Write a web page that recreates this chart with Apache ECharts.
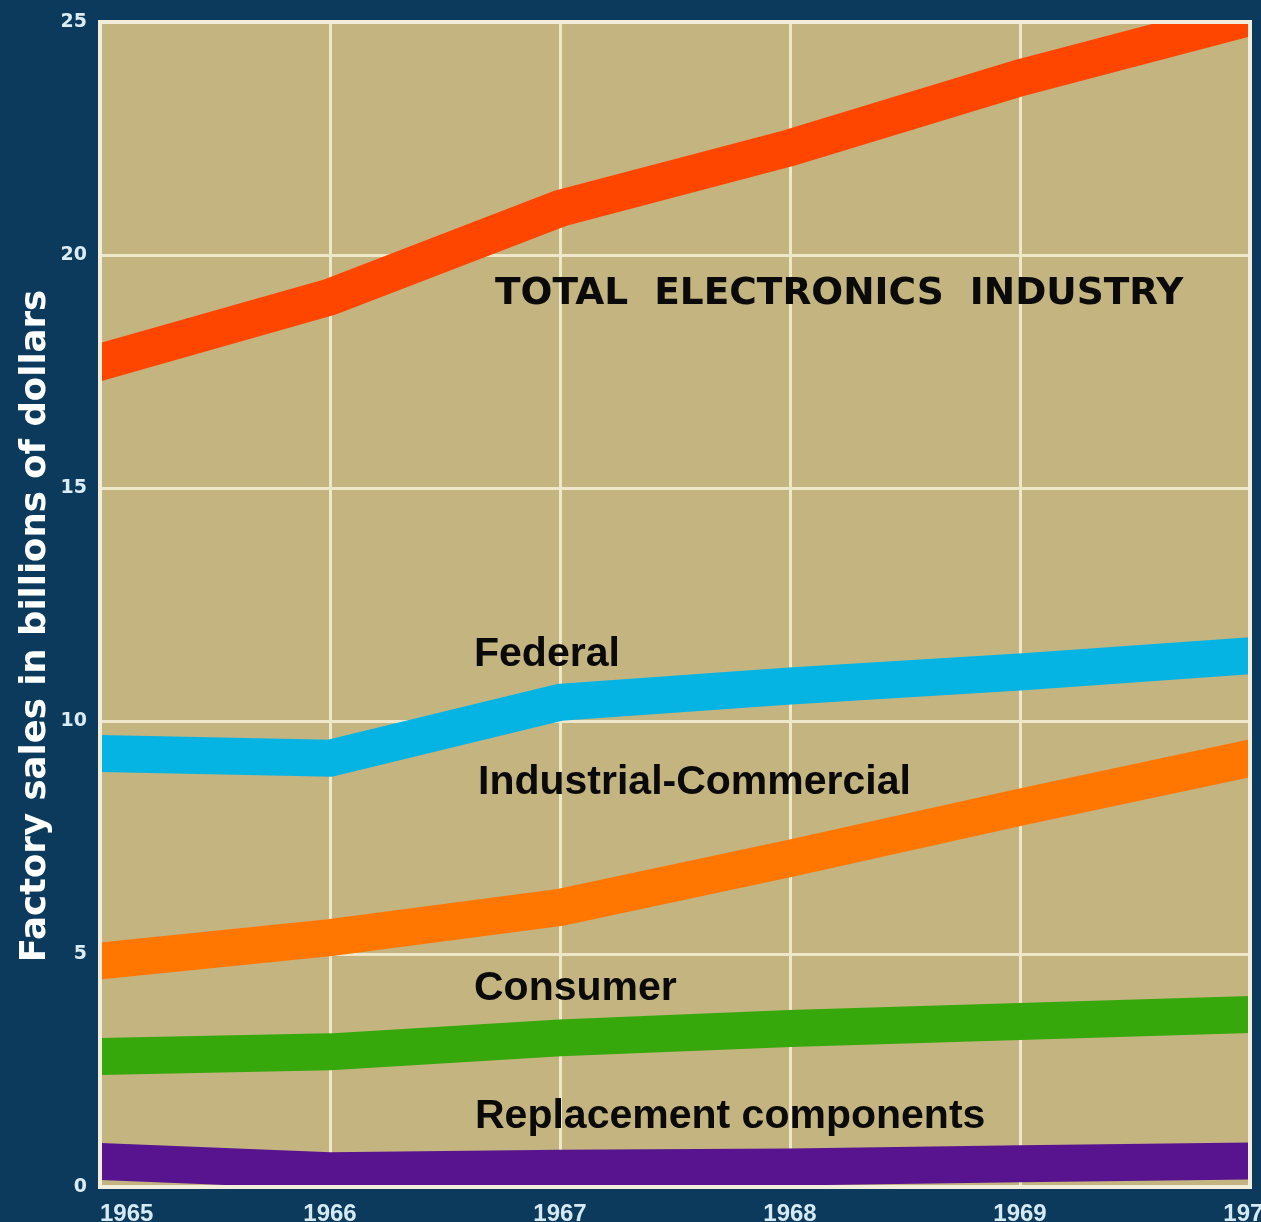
<!DOCTYPE html>
<html>
<head>
<meta charset="utf-8">
<script src="https://cdn.jsdelivr.net/npm/echarts@6/dist/echarts.min.js"></script>
<style>
  html, body { margin: 0; padding: 0; background: #0b3a5c; }
  #chart { width: 1261px; height: 1222px; }
</style>
</head>
<body>
<div id="chart"></div>
<script>
// ---- data ----
const years = [1965, 1966, 1967, 1968, 1969, 1970];
const totalIndustry = [17.7, 19.1, 21.0, 22.3, 23.8, 25.1];
const federal = [9.3, 9.2, 10.4, 10.75, 11.05, 11.4];
const industrialCommercial = [4.85, 5.35, 6.0, 7.05, 8.15, 9.2];
const consumer = [2.8, 2.9, 3.2, 3.4, 3.55, 3.7];
const replacement = [0.55, 0.35, 0.4, 0.43, 0.5, 0.56];
const yTicks = [0, 5, 10, 15, 20, 25];
const seriesLabels = ['TOTAL  ELECTRONICS  INDUSTRY', 'Federal', 'Industrial-Commercial', 'Consumer', 'Replacement components'];
const yTitle = 'Factory sales in billions of dollars';

const pairs = arr => years.map((y, i) => [y, arr[i]]);

// thick band drawn as one polyline through the library's coordinate system,
// clipped exactly at the plot area (vertical ends like the original)
function band(name, arr, color) {
  return {
    name: name,
    type: 'custom',
    data: pairs(arr),
    encode: { x: 0, y: 1 },
    clip: true,
    silent: true,
    renderItem: function (params, api) {
      if (params.dataIndexInside !== 0) return null;
      const pts = [];
      for (let j = 0; j < params.dataInsideLength; j++) {
        pts.push(api.coord([api.value(0, j), api.value(1, j)]));
      }
      return {
        type: 'polyline',
        shape: { points: pts },
        style: { stroke: color, fill: null, lineWidth: 37, lineCap: 'square', lineJoin: 'miter' }
      };
    }
  };
}

const chart = echarts.init(document.getElementById('chart'), null, { renderer: 'canvas' });

const labelFont = { fontFamily: 'Liberation Sans', fontWeight: 'bold', fontSize: 41, fill: '#0a0a0a' };

chart.setOption({
  backgroundColor: '#0b3a5c',
  animation: false,
  grid: {
    left: 100, right: 11, top: 22, bottom: 35,
    containLabel: false,
    outerBoundsMode: 'none',
    show: true,
    backgroundColor: '#c4b480',
    borderColor: '#f3eedb',
    borderWidth: 3
  },
  xAxis: {
    type: 'value',
    min: years[0], max: years[years.length - 1], interval: 1,
    axisLine: { show: false },
    axisTick: { show: false },
    splitLine: { show: true, lineStyle: { color: '#efe7c9', width: 3 } },
    axisLabel: {
      formatter: v => String(v),
      color: '#d6eaf4',
      fontFamily: 'Liberation Sans',
      fontWeight: 'bold',
      fontSize: 24,
      margin: 15,
      alignMinLabel: 'left'
    }
  },
  yAxis: {
    type: 'value',
    min: yTicks[0], max: yTicks[yTicks.length - 1], interval: 5,
    axisLine: { show: false },
    axisTick: { show: false },
    splitLine: { show: true, lineStyle: { color: '#efe7c9', width: 3 } },
    axisLabel: {
      color: '#dcecf4',
      fontFamily: 'DejaVu Sans',
      fontWeight: 'bold',
      fontSize: 19,
      margin: 13
    }
  },
  series: [
    band('Total electronics industry', totalIndustry, '#ff4600'),
    band('Federal', federal, '#06b4e4'),
    band('Industrial-Commercial', industrialCommercial, '#ff7600'),
    band('Consumer', consumer, '#36a80c'),
    band('Replacement components', replacement, '#58148f')
  ],
  graphic: [
    { type: 'rect', z: 90, silent: true,
      shape: { x: 100, y: 22, width: 1150, height: 1165 },
      style: { fill: null, stroke: '#f3eedb', lineWidth: 4 } },
    { type: 'text', x: 36, y: 626, rotation: Math.PI / 2, z: 100,
      style: { text: yTitle, fontFamily: 'DejaVu Sans', fontWeight: 'bold', fontSize: 35.5, fill: '#ffffff', align: 'center', verticalAlign: 'middle' } },
    { type: 'text', left: 495, top: 275, z: 100,
      style: { text: seriesLabels[0], fontFamily: 'DejaVu Sans', fontWeight: 'bold', fontSize: 37.5, fill: '#0a0a0a' } },
    { type: 'text', left: 474, top: 634, z: 100, style: Object.assign({ text: seriesLabels[1] }, labelFont) },
    { type: 'text', left: 478, top: 762, z: 100, style: Object.assign({ text: seriesLabels[2] }, labelFont) },
    { type: 'text', left: 474, top: 968, z: 100, style: Object.assign({ text: seriesLabels[3] }, labelFont) },
    { type: 'text', left: 475, top: 1096, z: 100, style: Object.assign({ text: seriesLabels[4] }, labelFont) }
  ]
});
</script>
</body>
</html>
